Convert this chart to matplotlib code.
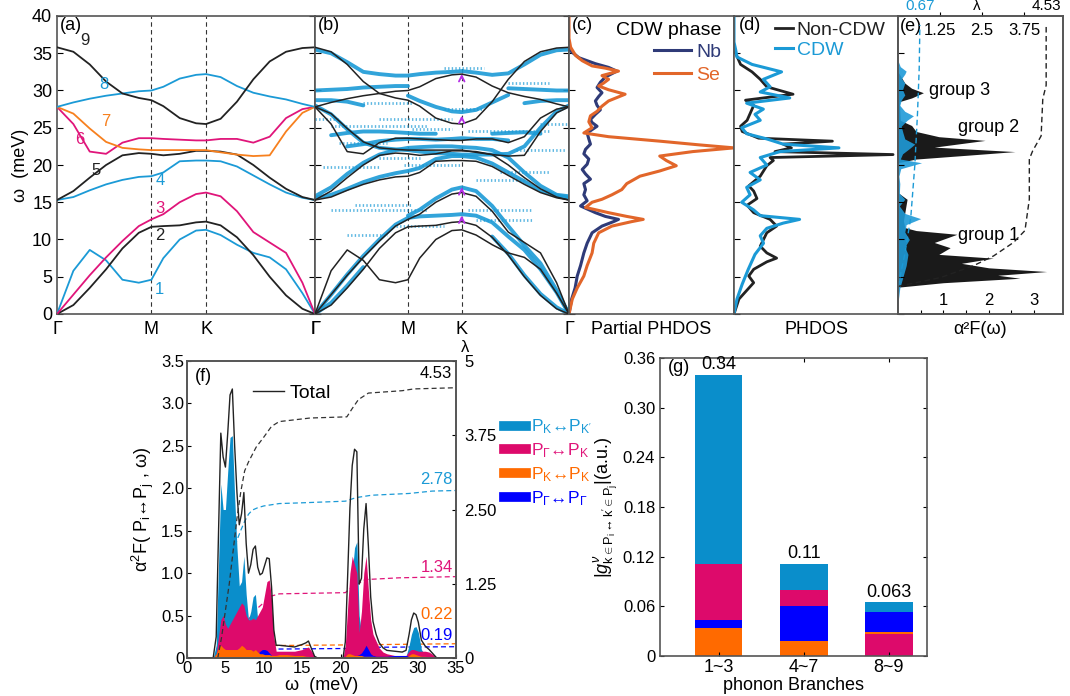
import matplotlib
matplotlib.use("Agg")
import matplotlib.pyplot as plt
from matplotlib.lines import Line2D

plt.rcParams['font.family'] = ['Liberation Sans', 'DejaVu Sans']
plt.rcParams['mathtext.fontset'] = 'custom'
plt.rcParams['mathtext.rm'] = 'Liberation Sans'
plt.rcParams['mathtext.it'] = 'Liberation Sans:italic'
plt.rcParams['axes.edgecolor'] = '#555555'
plt.rcParams['axes.linewidth'] = 1.2

# colours
C_BLUE = "#1b9ad6"
C_PINK = "#e0157a"
C_ORANGE = "#f7801e"
C_BLACK = "#222222"
C_NB = "#2f3b78"
C_SE = "#e2662a"
F_CYAN = "#0a8ecb"
F_PINK = "#dd0a6b"
F_ORANGE = "#ff6a00"
F_BLUE = "#0000ff"
C_PURPLE = "#b52ee6"

# ---- (a)/(b) phonon dispersion along Γ-M-K-Γ ----
Q = [0, 0.1, 0.2, 0.3, 0.4, 0.5, 0.577, 0.65, 0.75, 0.85, 0.911,
     1.0, 1.1, 1.2, 1.3, 1.4, 1.5, 1.577]
Q_TICKS = [0, 0.577, 0.911, 1.577]
Q_LABELS = ["Γ", "M", "K", "Γ"]

br1 = [0, 5.8, 8.6, 7.2, 4.6, 4.2, 4.6, 7.5, 10.0, 11.2, 11.3, 10.6, 9.3, 8.2, 7.6, 6.0, 2.8, 0]
br2 = [0, 1.2, 3.5, 6.0, 8.8, 10.9, 11.7, 11.8, 11.9, 12.3, 12.4, 11.9, 10.3, 7.9, 5.0, 2.5, 0.7, 0]
br3 = [0, 2.6, 5.2, 7.6, 9.8, 11.8, 12.7, 13.4, 15.0, 16.1, 16.3, 15.8, 13.8, 11.0, 9.6, 8.2, 4.2, 0]
br4 = [15.3, 15.7, 16.6, 17.4, 18.0, 18.4, 18.5, 19.0, 20.5, 20.6, 20.6, 20.5, 19.8, 18.6, 17.4, 16.3, 15.6, 15.3]
br5 = [15.3, 16.5, 18.3, 20.0, 21.3, 21.6, 21.5, 21.3, 21.5, 21.9, 21.9, 21.8, 21.4, 20.0, 18.3, 16.8, 15.7, 15.3]
br6 = [27.8, 25.5, 21.8, 21.5, 23.0, 23.6, 23.6, 23.5, 23.4, 23.3, 23.3, 23.5, 23.5, 23.0, 23.8, 26.3, 27.5, 27.8]
br7 = [27.8, 26.9, 24.9, 23.1, 22.3, 22.1, 22.0, 22.0, 22.0, 22.0, 22.0, 21.7, 21.4, 21.2, 21.3, 24.5, 27.0, 27.8]
br8 = [27.8, 28.4, 28.9, 29.3, 29.6, 29.9, 30.0, 30.5, 31.6, 32.1, 32.2, 31.8, 30.6, 29.7, 29.2, 28.8, 28.2, 27.8]
br9 = [35.8, 35.2, 33.5, 31.2, 29.6, 29.0, 28.7, 27.9, 26.3, 25.6, 25.5, 26.2, 28.5, 31.5, 33.9, 35.2, 35.7, 35.8]
BRANCHES = [br1, br2, br3, br4, br5, br6, br7, br8, br9]
BRANCH_COLORS = [C_BLUE, C_BLACK, C_PINK, C_BLUE, C_BLACK, C_PINK, C_ORANGE, C_BLUE, C_BLACK]
# branch number labels: (q, energy)
LABEL_Q = [0.60, 0.60, 0.60, 0.60, 0.21, 0.11, 0.27, 0.26, 0.14]
LABEL_E = [3.3, 10.6, 14.2, 17.9, 19.2, 23.4, 25.8, 30.8, 36.7]

nan = float("nan")
# CDW unfolded bands (thick) in (b)
cdw_bands = [
    [0, 2.6, 5.3, 7.8, 10.0, 12.0, 12.9, 13.1, 13.2, 13.3, 13.4, 13.2, 12.3, 10.4, 8.6, 6.0, 2.9, 0],
    [0, 1.5, 3.8, 6.3, nan, nan, nan, nan, nan, nan, nan, nan, 10.4, 8.1, 5.2, 2.7, 0.9, 0],
    [nan, nan, nan, nan, nan, nan, 13.2, 14.0, 15.5, 16.7, 17.0, 16.5, 14.5, 11.8, 9.2, 6.8, 3.2, 0],
    [15.8, 17.0, 18.8, 20.3, 21.4, 22.0, 22.3, 22.4, 22.5, 22.5, 22.4, 22.3, 22.0, 21.0, 19.0, 17.2, 16.0, 15.8],
    [15.6, 16.0, 16.8, 17.7, 18.4, 18.9, 19.2, 19.6, 20.8, 21.2, 21.2, 21.0, 20.2, 19.0, 17.8, 16.6, 15.9, 15.6],
    [nan, nan, 22.5, 22.8, 23.2, 23.4, 23.5, 23.5, 23.4, 23.5, 23.6, 23.5, 23.5, 23.3, nan, nan, nan, nan],
    [28.0, 26.8, 24.8, 23.0, 22.3, 22.1, 22.0, 21.8, 21.6, 21.5, 21.4, 21.4, 21.4, 21.5, 22.5, 25.0, 27.2, 28.0],
    [30.0, 30.1, 30.2, 30.4, 30.5, 30.6, 30.6, nan, nan, nan, nan, nan, nan, 30.3, 30.2, 30.1, 30.0, 30.0],
    [28.7, 28.7, 28.5, 28.0, nan, nan, nan, nan, nan, nan, nan, nan, nan, nan, 28.3, 28.6, 28.7, 28.7],
    [nan, nan, nan, nan, nan, nan, 29.3, 28.6, 27.8, 27.2, 27.1, 27.4, 28.4, 29.4, nan, nan, nan, nan],
    [35.5, 35.0, 33.8, 32.5, 32.2, 32.0, 32.0, 32.2, 32.4, 32.5, 32.6, 32.4, 32.1, 32.3, 33.5, 34.8, 35.4, 35.5],
    [nan, 24.0, 24.3, 24.5, 24.5, 24.4, 24.3, 24.2, 24.2, nan, nan, nan, 24.2, 24.3, 24.4, 24.2, nan, nan],
]
# weak CDW spectral weight (short dotted segments): start q, end q, energy
fuzz_q0 = [0.10, 0.25, 0.50, 0.20, 0.05, 0.40, 0.10, 0.40, 0.80, 0.30, 1.15, 0.95, 1.25, 0.95, 1.00, 1.20, 0.80, 0.00, 1.40, 0.55, 1.00, 0.15, 0.60]
fuzz_q1 = [0.70, 0.60, 0.80, 0.45, 0.40, 0.65, 0.70, 0.85, 1.05, 0.60, 1.45, 1.45, 1.55, 1.35, 1.35, 1.45, 1.05, 0.15, 1.577, 0.90, 1.30, 0.45, 0.85]
fuzz_E = [13.9, 14.6, 11.8, 10.6, 19.7, 21.0, 25.2, 26.2, 27.5, 28.3, 19.0, 24.6, 22.0, 13.9, 12.6, 31.0, 33.0, 26.2, 25.5, 20.0, 18.0, 23.0, 24.8]
# purple arrows at K: from / to energy
arrow_E0 = [12.2, 16.1, 25.7, 31.3]
arrow_E1 = [13.6, 17.4, 27.0, 32.6]

# ---- (c) partial PHDOS (CDW phase) ----
se_E = [0, 2, 3.5, 5.1, 6.5, 8.2, 9.5, 10.9, 11.8, 12.4, 12.7, 13.1, 13.6, 14.3, 15.0, 15.4, 16.0,
        16.7, 17.5, 18.5, 19.2, 19.9, 20.6, 21.2, 21.8, 22.3, 22.7, 23.2, 23.8, 24.3, 25.0, 25.8,
        26.6, 27.2, 27.9, 28.6, 29.5, 30.1, 30.6, 31.0, 31.5, 32.0, 32.6, 33.0, 33.3, 34.0, 34.7,
        35.8, 37.0, 40.0]
se_x = [0, 0.02, 0.05, 0.09, 0.11, 0.14, 0.15, 0.18, 0.26, 0.38, 0.45, 0.35, 0.24, 0.10, 0.14, 0.20,
        0.26, 0.32, 0.35, 0.43, 0.55, 0.65, 0.59, 0.55, 0.75, 1.0, 0.79, 0.55, 0.24, 0.09, 0.14, 0.12,
        0.13, 0.17, 0.20, 0.24, 0.34, 0.24, 0.18, 0.21, 0.24, 0.20, 0.30, 0.22, 0.14, 0.08, 0.04,
        0.01, 0.0, 0.0]
nb_E = [0, 2, 3.5, 5.1, 6.5, 8.2, 9.5, 10.9, 11.8, 12.4, 12.7, 13.1, 13.6, 14.5, 15.2, 16.0, 16.7,
        17.5, 18.1, 18.8, 19.4, 20.1, 20.8, 21.5, 22.1, 22.8, 23.5, 24.3, 25.2, 25.7, 26.1, 26.8,
        27.4, 28.0, 28.6, 29.2, 29.7, 30.4, 31.1, 31.8, 32.6, 33.1, 33.6, 34.4, 35.3, 36.0]
nb_x = [0, 0.016, 0.037, 0.05, 0.07, 0.09, 0.11, 0.14, 0.20, 0.27, 0.30, 0.22, 0.16, 0.07, 0.11, 0.09,
        0.10, 0.09, 0.13, 0.10, 0.08, 0.11, 0.12, 0.09, 0.10, 0.13, 0.12, 0.11, 0.17, 0.14, 0.13, 0.16,
        0.19, 0.17, 0.16, 0.18, 0.20, 0.17, 0.19, 0.22, 0.29, 0.24, 0.16, 0.06, 0.01, 0.0]

# ---- (d) PHDOS ----
ncdw_E = [0, 2, 4.2, 5.1, 6.0, 7.0, 7.5, 8.2, 9.1, 10.0, 10.9, 11.8, 12.7, 13.6, 14.6, 15.5, 16.5,
          17.2, 18.5, 19.9, 20.6, 21.0, 21.4, 21.8, 22.3, 22.8, 23.2, 23.6, 24.5, 25.2, 26.0, 27.0,
          28.0, 28.7, 29.5, 30.5, 31.5, 32.5, 33.5, 34.5, 35.5]
ncdw_x = [0, 0.03, 0.12, 0.09, 0.12, 0.20, 0.26, 0.20, 0.16, 0.18, 0.20, 0.26, 0.22, 0.12, 0.08, 0.14,
          0.12, 0.09, 0.16, 0.20, 0.24, 0.22, 0.97, 0.25, 0.35, 0.30, 0.60, 0.15, 0.05, 0.04, 0.08, 0.10,
          0.12, 0.07, 0.36, 0.20, 0.16, 0.11, 0.04, 0.02, 0.0]
cdw_E = [0, 2, 4, 6, 8, 9.5, 10.5, 11.5, 12.2, 12.7, 13.2, 14.0, 15.0, 16.0, 17.0, 18.0, 19.0, 20.0,
         21.0, 21.8, 22.3, 22.8, 23.5, 24.2, 25.0, 26.0, 26.8, 27.5, 28.3, 29.0, 29.8, 30.5, 31.5,
         32.5, 33.5, 34.5, 35.5, 36.5, 40.0]
cdw_x = [0, 0.018, 0.05, 0.087, 0.128, 0.18, 0.16, 0.20, 0.30, 0.40, 0.16, 0.118, 0.047, 0.098, 0.077,
         0.16, 0.098, 0.20, 0.16, 0.28, 0.64, 0.30, 0.20, 0.077, 0.047, 0.16, 0.128, 0.179, 0.077,
         0.34, 0.16, 0.22, 0.179, 0.29, 0.11, 0.018, 0.01, 0.0, 0.0]

# ---- (e) Eliashberg function ----
a2f_ncdw_E = [0, 3.6, 4.2, 4.8, 5.2, 5.7, 6.2, 6.8, 7.5, 8.0, 8.9, 9.6, 10.7, 11.2, 11.6, 12.5, 15.4,
              16.2, 20.3, 20.8, 21.3, 21.8, 22.4, 23.3, 23.8, 24.5, 25.3, 26.0, 28.5, 29.0, 29.7, 30.3,
              31.0, 32.0, 32.5, 40.0]
a2f_ncdw = [0, 0, 1.0, 2.69, 2.2, 3.28, 2.0, 1.4, 2.1, 0.9, 1.15, 0.8, 1.3, 0.4, 0.15, 0.12, 0.2,
            0.02, 0, 0.4, 1.5, 2.58, 0.8, 1.92, 0.9, 0.4, 0.3, 0.05, 0.03, 0.3, 0.56, 0.3,
            0.15, 0.05, 0, 0]
a2f_cdw_E = [0, 2.0, 3.5, 5, 6.5, 8, 9, 10, 11, 12.0, 12.8, 13.5, 14.5, 15.4, 16.2, 17.5, 18.5, 19.5,
             20.3, 20.8, 21.5, 22.2, 22.8, 23.5, 24.3, 25.2, 26.0, 26.6, 27.2, 28.0, 28.7, 29.4, 30.1,
             31.0, 31.6, 32.2, 32.6, 33.2, 34.0, 40.0]
a2f_cdw = [0, 0.01, 0.04, 0.11, 0.18, 0.22, 0.15, 0.25, 0.15, 0.18, 0.5, 0.15, 0.03, 0.15, 0.03, 0.04,
           0.02, 0.06, 0.52, 0.05, 0.1, 0.25, 0.37, 0.15, 0.11, 0.07, 0.2, 0.34, 0.15, 0.04, 0.07,
           0.15, 0.1, 0.15, 0.08, 0.15, 0.18, 0.05, 0, 0]
lam_ncdw_E = [3.7, 4.9, 6.5, 7.8, 9.6, 11.2, 15.4, 20.8, 21.9, 23.9, 28.9, 30.7, 38.8]
lam_ncdw = [0, 1.27, 2.25, 2.84, 3.43, 3.77, 3.9, 3.9, 4.0, 4.25, 4.3, 4.4, 4.4]
lam_cdw_E = [3.7, 8.0, 13.0, 20.0, 27.0, 33.0, 38.8]
lam_cdw = [0, 0.2, 0.38, 0.5, 0.58, 0.63, 0.65]

# ---- (f) decomposed α²F ----
f_w = [0, 3.4, 3.8, 4.1, 4.4, 4.7, 5.0, 5.3, 5.6, 5.9,
       6.2, 6.5, 6.8, 7.1, 7.4, 7.7, 8.0, 8.3, 8.6, 8.9,
       9.2, 9.5, 9.8, 10.1, 10.4, 10.7, 11.0, 11.3, 11.6, 12.0,
       13.0, 14.0, 15.0, 15.5, 15.8, 16.2, 16.6, 17.0, 20.3, 20.6,
       20.9, 21.2, 21.5, 21.8, 22.1, 22.4, 22.7, 23.0, 23.3, 23.6,
       23.9, 24.2, 24.6, 25.0, 25.5, 26.0, 27.0, 28.0, 28.5, 28.9,
       29.2, 29.5, 29.8, 30.1, 30.5, 31.0, 31.5, 32.0, 32.5, 35.0]
f_kk2 = [0, 0, 0.15, 1.1, 2.05, 1.75, 1.75, 2.2, 2.6, 2.62,
         1.9, 1.3, 0.85, 0.9, 1.2, 0.75, 0.45, 0.55, 0.72, 0.75,
         0.45, 0.3, 0.25, 0.2, 0.15, 0.15, 0.08, 0.03, 0.02, 0.01,
         0.01, 0.01, 0.02, 0.03, 0.04, 0.02, 0, 0, 0, 0.02,
         0.3, 0.7, 1.0, 1.3, 1.37, 0.5, 0.3, 0.4, 0.45, 0.4,
         0.2, 0.1, 0.05, 0.03, 0.02, 0.01, 0.01, 0.01, 0.02, 0.15,
         0.28, 0.36, 0.37, 0.3, 0.1, 0.03, 0.01, 0, 0, 0]
f_gk = [0, 0, 0.05, 0.25, 0.45, 0.5, 0.4, 0.35, 0.4, 0.45,
        0.5, 0.55, 0.6, 0.65, 0.62, 0.5, 0.45, 0.45, 0.47, 0.45,
        0.5, 0.55, 0.6, 0.75, 0.9, 0.92, 0.7, 0.25, 0.08, 0.08,
        0.08, 0.08, 0.1, 0.12, 0.13, 0.08, 0.02, 0, 0, 0.15,
        0.6, 1.0, 1.2, 1.1, 1.0, 0.3, 0.55, 1.0, 1.2, 0.8,
        0.45, 0.28, 0.2, 0.12, 0.07, 0.05, 0.03, 0.02, 0.03, 0.08,
        0.1, 0.1, 0.09, 0.08, 0.08, 0.08, 0.07, 0.04, 0, 0]
f_kk = [0, 0, 0.05, 0.12, 0.15, 0.12, 0.1, 0.1, 0.1, 0.1,
        0.1, 0.1, 0.12, 0.15, 0.13, 0.1, 0.1, 0.1, 0.08, 0.1,
        0.07, 0.05, 0.05, 0.04, 0.04, 0.04, 0.03, 0.03, 0.03, 0.04,
        0.04, 0.03, 0.03, 0.02, 0.02, 0.01, 0, 0, 0, 0.02,
        0.05, 0.05, 0.04, 0.03, 0.03, 0.03, 0.03, 0.02, 0.02, 0.02,
        0.02, 0.02, 0.01, 0.01, 0.01, 0.01, 0.01, 0.01, 0.01, 0.03,
        0.05, 0.05, 0.04, 0.03, 0.02, 0.02, 0.01, 0.01, 0, 0]
f_gg = [0, 0, 0, 0, 0, 0, 0, 0, 0, 0,
        0, 0, 0, 0, 0, 0, 0, 0, 0.01, 0.02,
        0.05, 0.08, 0.1, 0.1, 0.09, 0.06, 0.03, 0.02, 0.02, 0.02,
        0.01, 0.01, 0.01, 0.01, 0.01, 0, 0, 0, 0, 0,
        0.01, 0.02, 0.03, 0.03, 0.03, 0.04, 0.06, 0.1, 0.15, 0.1,
        0.05, 0.03, 0.02, 0.02, 0.02, 0.02, 0.03, 0.03, 0.03, 0.02,
        0.02, 0.02, 0.01, 0.01, 0.01, 0.01, 0.01, 0, 0, 0]
lam_tot_w = [4.0, 4.5, 5.0, 5.5, 6.0, 6.5, 7.0, 7.5, 8.0, 9.0, 10.0, 11.0, 12.0, 16.0, 20.8, 21.5,
             22.3, 23.6, 28.0, 29.5, 35.0]
lam_tot = [0, 0.35, 0.8, 1.25, 1.8, 2.35, 2.8, 3.15, 3.3, 3.55, 3.72, 3.9, 3.98, 4.04, 4.06, 4.2,
           4.35, 4.46, 4.5, 4.53, 4.55]
lam_kk2_w = [4.0, 5.0, 5.8, 6.4, 7.0, 7.5, 8.0, 8.5, 9.2, 10.0, 12.0, 14.4, 20.6, 22.0, 24.0, 28.9, 31.9, 35.0]
lam_kk2 = [0, 0.7, 1.5, 1.95, 2.15, 2.3, 2.42, 2.49, 2.53, 2.56, 2.6, 2.61, 2.64, 2.7, 2.74, 2.77, 2.81, 2.82]
lam_gk_w = [4.0, 5.0, 6.0, 7.0, 8.0, 9.2, 10.9, 12.0, 20.6, 21.5, 23.2, 27.6, 35.0]
lam_gk = [0, 0.15, 0.3, 0.48, 0.65, 0.84, 1.04, 1.08, 1.1, 1.2, 1.32, 1.35, 1.37]
lam_kk_w = [4.0, 5.0, 7.0, 9.0, 11.4, 20.6, 35.0]
lam_kk = [0, 0.05, 0.13, 0.18, 0.21, 0.22, 0.24]
lam_gg_w = [9.0, 10.0, 11.4, 20.6, 23.5, 35.0]
lam_gg = [0, 0.06, 0.15, 0.16, 0.18, 0.19]

# ---- (g) coupling strength per branch group ----
g_groups = ["1~3", "4~7", "8~9"]
g_kk = [0.034, 0.018, 0.003]
g_gg = [0.010, 0.043, 0.024]
g_gk = [0.067, 0.019, 0.026]
g_kk2 = [0.229, 0.031, 0.012]
g_totals = ["0.34", "0.11", "0.063"]
g_order = [["kk", "gg", "gk", "kk2"], ["kk", "gg", "gk", "kk2"], ["gk", "kk", "gg", "kk2"]]

W, H = 1070, 696
fig = plt.figure(figsize=(W / 100, H / 100), dpi=100)
fig.patch.set_facecolor("white")


def axes_px(left, top, right, bottom):
    return fig.add_axes([left / W, 1 - bottom / H, (right - left) / W, (bottom - top) / H])


def band_frame(ax):
    ax.set_xlim(0, Q_TICKS[-1])
    ax.set_ylim(0, 40)
    ax.set_xticks(Q_TICKS)
    ax.set_xticklabels(Q_LABELS, fontsize=13)
    ax.tick_params(axis="x", length=0, pad=5)
    ax.set_yticks(range(0, 41, 5))
    ax.tick_params(axis="y", direction="in", right=True, length=4)
    for q in Q_TICKS[1:3]:
        ax.axvline(q, color="#333333", lw=0.8, ls=(0, (4, 3)), zorder=1)


# (a)
ax_a = axes_px(57, 16, 315, 314)
band_frame(ax_a)
for br, col in zip(BRANCHES, BRANCH_COLORS):
    ax_a.plot(Q, br, color=col, lw=1.3, zorder=3)
for i, (q, e) in enumerate(zip(LABEL_Q, LABEL_E)):
    ax_a.text(q, e, str(i + 1), color=BRANCH_COLORS[i], fontsize=12, ha="left", va="center")
ax_a.tick_params(axis="y", labelsize=13)
ax_a.set_ylabel("ω  (meV)", fontsize=13, labelpad=2)
ax_a.text(0.01, 0.995, "(a)", transform=ax_a.transAxes, fontsize=13, va="top")

# (b)
ax_b = axes_px(315, 16, 569, 314)
band_frame(ax_b)
ax_b.tick_params(axis="y", labelleft=False)
for q0, q1, e in zip(fuzz_q0, fuzz_q1, fuzz_E):
    ax_b.plot([q0, q1], [e, e], color=C_BLUE, lw=2.0, ls=(0, (0.5, 0.8)), alpha=0.7, zorder=2)
for band in cdw_bands:
    ax_b.plot(Q, band, color=C_BLUE, lw=2.8, alpha=0.9, zorder=2, solid_capstyle="round")
for br in BRANCHES:
    ax_b.plot(Q, br, color=C_BLACK, lw=1.1, zorder=3)
for e0, e1 in zip(arrow_E0, arrow_E1):
    ax_b.annotate("", xy=(Q_TICKS[2], e1), xytext=(Q_TICKS[2], e0),
                  arrowprops=dict(arrowstyle="->", color=C_PURPLE, lw=1.3), zorder=4)
ax_b.text(0.01, 0.995, "(b)", transform=ax_b.transAxes, fontsize=13, va="top")


def dos_frame(ax, xmax):
    ax.set_xlim(0, xmax)
    ax.set_ylim(0, 40)
    ax.set_xticks([])
    ax.set_yticks(range(0, 41, 5))
    ax.tick_params(axis="y", direction="in", labelleft=False, length=4)


# (c)
ax_c = axes_px(569, 16, 734, 314)
dos_frame(ax_c, 1.0)
ax_c.plot(nb_x, nb_E, color=C_NB, lw=2.2, label="Nb")
ax_c.plot(se_x, se_E, color=C_SE, lw=2.2, label="Se")
leg = ax_c.legend(loc="upper right", bbox_to_anchor=(1.03, 1.04), frameon=False, fontsize=14,
                  title="CDW phase", title_fontsize=14, handlelength=1.9, handletextpad=0.3,
                  labelspacing=0.25, alignment="right")
for t, c in zip(leg.get_texts(), [C_NB, C_SE]):
    t.set_color(c)
ax_c.set_xlabel("Partial PHDOS", fontsize=13, labelpad=5)
ax_c.text(0.02, 0.995, "(c)", transform=ax_c.transAxes, fontsize=13, va="top")

# (d)
ax_d = axes_px(734, 16, 898, 314)
dos_frame(ax_d, 1.0)
ax_d.plot(ncdw_x, ncdw_E, color=C_BLACK, lw=2.0, label="Non-CDW")
ax_d.plot(cdw_x, cdw_E, color=C_BLUE, lw=2.2, label="CDW")
leg = ax_d.legend(loc="upper right", bbox_to_anchor=(1.03, 1.04), frameon=False, fontsize=14,
                  handlelength=0.9, handletextpad=0.2, labelspacing=0.1)
for t, c in zip(leg.get_texts(), [C_BLACK, C_BLUE]):
    t.set_color(c)
ax_d.set_xlabel("PHDOS", fontsize=13, labelpad=5)
ax_d.text(0.03, 0.995, "(d)", transform=ax_d.transAxes, fontsize=13, va="top")

# (e)
ax_e = axes_px(898, 16, 1063, 314)
ax_e.set_xlim(0, 3.64)
ax_e.set_ylim(0, 40)
ax_e.set_yticks(range(0, 41, 5))
ax_e.tick_params(axis="y", direction="in", labelleft=False, length=4)
ax_e.set_xticks([0.5, 1, 1.5, 2, 2.5, 3])
ax_e.set_xticklabels(["", "1", "", "2", "", "3"])
ax_e.tick_params(axis="x", direction="in", length=3, pad=-15, labelsize=12)
ax_e.fill_betweenx(a2f_ncdw_E, 0, a2f_ncdw, color="#1a1a1a", lw=0)
ax_e.fill_betweenx(a2f_cdw_E, 0, a2f_cdw, color="#1f9ad8", alpha=0.9, lw=0)
ax_e2 = ax_e.twiny()
ax_e2.set_xlim(0, 4.9)
ax_e2.set_xticks([1.25, 2.5, 3.75])
ax_e2.set_xticklabels(["1.25", "2.5", "3.75"])
ax_e2.tick_params(axis="x", direction="out", length=3, pad=-19, labelsize=12)
ax_e2.plot(lam_ncdw, lam_ncdw_E, color=C_BLACK, lw=1.0, ls=(0, (4, 2.5)))
ax_e2.plot(lam_cdw, lam_cdw_E, color=C_BLUE, lw=1.0, ls=(0, (4, 2.5)))
ax_e2.text(0.67, 40.4, "0.67", color=C_BLUE, fontsize=11, ha="center", va="bottom")
ax_e2.text(2.35, 40.4, "λ", fontsize=11, ha="center", va="bottom")
ax_e2.text(4.4, 40.4, "4.53", fontsize=11, ha="center", va="bottom")
ax_e.text(1.35, 30.0, "group 3", fontsize=13, ha="center", va="center")
ax_e.text(2.0, 25.0, "group 2", fontsize=13, ha="center", va="center")
ax_e.text(2.0, 10.6, "group 1", fontsize=13, ha="center", va="center")
ax_e.text(0.04, 39.7, "(e)", fontsize=13, va="top")
ax_e.set_xlabel("α²F(ω)", fontsize=13, labelpad=5)

# (f)
ax_f = axes_px(187, 361, 456, 658)
ax_f.set_xlim(0, 35)
ax_f.set_ylim(0, 3.5)
ax_f.set_xticks(range(0, 36, 5))
ax_f.set_yticks([0, 0.5, 1.0, 1.5, 2.0, 2.5, 3.0, 3.5])
ax_f.set_yticklabels(["0", "0.5", "1.0", "1.5", "2.0", "2.5", "3.0", "3.5"])
ax_f.tick_params(labelsize=12, direction="in", length=3, pad=2)
ax_f2 = ax_f.twinx()
ax_f2.set_ylim(0, 5)
ax_f2.set_yticks([0, 1.25, 2.5, 3.75, 5])
ax_f2.set_yticklabels(["0", "1.25", "2.50", "3.75", "5"])
ax_f2.tick_params(labelsize=12, direction="in", length=3, pad=6)
dash = (0, (4, 2.5))
for lw_, lam_, col in ((lam_kk2_w, lam_kk2, C_BLUE), (lam_gk_w, lam_gk, C_PINK),
                       (lam_kk_w, lam_kk, F_ORANGE), (lam_gg_w, lam_gg, F_BLUE)):
    ax_f.plot(lw_, lam_, color=col, lw=0.9, ls=dash, transform=ax_f2.transData, zorder=1)
ax_f.fill_between(f_w, 0, f_kk2, color=F_CYAN, lw=0, zorder=2)
ax_f.fill_between(f_w, 0, f_gk, color=F_PINK, lw=0, zorder=2)
ax_f.fill_between(f_w, 0, f_gg, color=F_BLUE, lw=0, zorder=2)
ax_f.fill_between(f_w, 0, f_kk, color=F_ORANGE, lw=0, zorder=2)
f_total = [a + b + c + d for a, b, c, d in zip(f_kk2, f_gk, f_kk, f_gg)]
ax_f.plot(f_w, f_total, color=C_BLACK, lw=1.0, zorder=3, label="Total")
ax_f2.plot(lam_tot_w, lam_tot, color="#333333", lw=0.9, ls=dash)
ax_f.legend(loc="upper left", bbox_to_anchor=(0.18, 0.98), frameon=False, fontsize=14,
            handlelength=1.6, handletextpad=0.3)
ax_f2.text(34.5, 4.92, "4.53", fontsize=12, ha="right", va="top")
ax_f2.text(34.6, 2.88, "2.78", fontsize=12, ha="right", va="bottom", color=C_BLUE)
ax_f2.text(34.6, 1.39, "1.34", fontsize=12, ha="right", va="bottom", color=C_PINK)
ax_f2.text(34.6, 0.6, "0.22", fontsize=12, ha="right", va="bottom", color=F_ORANGE)
ax_f2.text(34.6, 0.25, "0.19", fontsize=12, ha="right", va="bottom", color=F_BLUE)
ax_f2.text(1.035, 1.02, "λ", transform=ax_f2.transAxes, fontsize=12, ha="center", va="bottom")
ax_f.text(0.03, 0.975, "(f)", transform=ax_f.transAxes, fontsize=13, va="top")
ax_f.set_xlabel("ω  (meV)", fontsize=13, labelpad=1)
ax_f.set_ylabel("α$^2$F( P$_\\mathrm{i}$↔P$_\\mathrm{j}$ , ω)", fontsize=13, labelpad=4)

handles = [Line2D([0], [0], color=c, lw=7) for c in (F_CYAN, F_PINK, F_ORANGE, F_BLUE)]
labels = ["P$_\\mathrm{K}$↔P$_\\mathrm{K'}$", "P$_\\Gamma$↔P$_\\mathrm{K}$",
          "P$_\\mathrm{K}$↔P$_\\mathrm{K}$", "P$_\\Gamma$↔P$_\\Gamma$"]
leg = fig.legend(handles, labels, loc="upper left", bbox_to_anchor=(488 / W, 1 - 402 / H),
                 frameon=False, handlelength=1.3, handletextpad=0.3, labelspacing=0.3,
                 prop={"size": 12.5})
for t, c in zip(leg.get_texts(), [C_BLUE, C_PINK, F_ORANGE, F_BLUE]):
    t.set_color(c)

# (g)
ax_g = axes_px(660, 358, 927, 656)
comp_vals = {"kk": g_kk, "gg": g_gg, "gk": g_gk, "kk2": g_kk2}
comp_cols = {"kk": F_ORANGE, "gg": F_BLUE, "gk": F_PINK, "kk2": F_CYAN}
for i, order in enumerate(g_order):
    bottom = 0.0
    for key in order:
        h = comp_vals[key][i]
        ax_g.bar(i + 1, h, bottom=bottom, width=0.56, color=comp_cols[key], lw=0)
        bottom += h
    ax_g.text(i + 1, bottom + 0.002, g_totals[i], fontsize=13, ha="center", va="bottom")
ax_g.set_xlim(0.31, 3.45)
ax_g.set_ylim(0, 0.36)
ax_g.set_xticks([1, 2, 3])
ax_g.set_xticklabels(g_groups)
ax_g.set_yticks([0, 0.06, 0.12, 0.18, 0.24, 0.30, 0.36])
ax_g.set_yticklabels(["0", "0.06", "0.12", "0.18", "0.24", "0.30", "0.36"])
ax_g.tick_params(axis="y", direction="in", right=True, length=3, labelsize=12)
ax_g.tick_params(axis="x", direction="in", top=True, length=3, labelsize=13, pad=2)
ax_g.set_xlabel("phonon Branches", fontsize=13, labelpad=1)
ax_g.set_ylabel("$|g^{\\nu}_{\\mathrm{k}\\in \\mathrm{P_i}\\leftrightarrow \\mathrm{k'}\\in \\mathrm{P_j}}|$(a.u.)",
                fontsize=13, labelpad=2)
ax_g.text(0.03, 0.995, "(g)", transform=ax_g.transAxes, fontsize=13, va="top")

fig.savefig("out.png", dpi=100, facecolor="white")
